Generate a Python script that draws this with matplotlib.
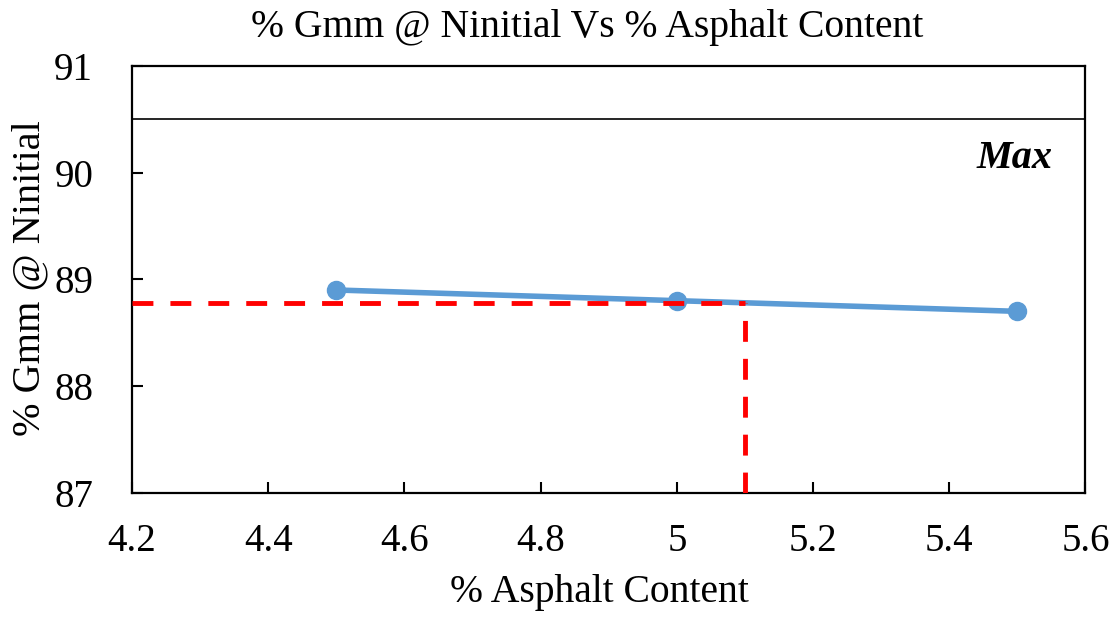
import matplotlib
matplotlib.use("Agg")
import matplotlib.pyplot as plt

plt.rcParams['font.family'] = ['Liberation Serif', 'DejaVu Serif']

asphalt = [4.5, 5.0, 5.5]
gmm_ninitial = [88.9, 88.8, 88.7]
max_limit = 90.5
design_ac = 5.1
design_gmm = 88.78

xticks = [4.2, 4.4, 4.6, 4.8, 5.0, 5.2, 5.4, 5.6]
xtick_labels = ["4.2", "4.4", "4.6", "4.8", "5", "5.2", "5.4", "5.6"]
yticks = [87, 88, 89, 90, 91]

W, H = 1119, 620
fig = plt.figure(figsize=(W / 100, H / 100), dpi=100)
ax = fig.add_axes([0.118, 0.205, 0.852, 0.689])

ax.plot(asphalt, gmm_ninitial, color='#5b9bd5', linewidth=4, marker='o',
        markersize=13, zorder=3)
ax.axhline(max_limit, color='black', linewidth=1.2, zorder=2)
# design lines: horizontal from the y-axis, vertical up from the x-axis
ax.plot([4.2, design_ac], [design_gmm, design_gmm], color='#ff0000',
        linewidth=3.5, linestyle=(0, (4.3, 3.5)), zorder=4)
ax.plot([design_ac, design_ac], [87, design_gmm], color='#ff0000',
        linewidth=3.5, linestyle=(0, (4.3, 3.5)), zorder=4)

ax.text(5.5516, 90.045, "Max", fontsize=29, fontweight='bold', style='italic',
        ha='right', va='baseline')

ax.set_xlim(4.2, 5.6)
ax.set_ylim(87, 91)
ax.set_xticks(xticks)
ax.set_xticklabels(xtick_labels)
ax.set_yticks(yticks)
ax.tick_params(direction='in', length=8, width=1.5, labelsize=28)
ax.tick_params(axis='x', pad=22)
ax.tick_params(axis='y', pad=28)
for s in ax.spines.values():
    s.set_linewidth(1.6)

fig.text(587 / W, 1 - 37 / H, "% Gmm @ Ninitial Vs % Asphalt Content",
         fontsize=28.5, ha='center', va='baseline')
fig.text(599 / W, 1 - 602 / H, "% Asphalt Content",
         fontsize=28.5, ha='center', va='baseline')
fig.text(30 / W, 1 - 278 / H, "% Gmm @ Ninitial",
         fontsize=29, ha='center', va='center', rotation=90)

fig.savefig("out.png", dpi=100, facecolor='white')
